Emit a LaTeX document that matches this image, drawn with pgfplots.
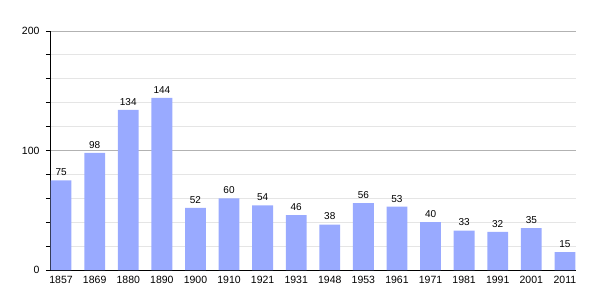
\documentclass[border=0pt]{standalone}
\usepackage{pgfplots}
\pgfplotsset{compat=1.18}
\usepackage{fontspec}
\setmainfont{Liberation Sans}
\definecolor{barblue}{HTML}{99AAFF}
\begin{document}
\begin{tikzpicture}
\path[use as bounding box] (-50pt,-30pt) rectangle (555pt,270pt);
\begin{axis}[
  scale only axis,
  width=526pt, height=239pt,
  at={(0pt,0pt)}, anchor=south west,
  ymin=0, ymax=200,
  xmin=-0.33, xmax=15.33,
  ytick={0,100,200},
  minor ytick={20,40,60,80,120,140,160,180},
  xtick={0,...,15},
  xticklabels={1857,1869,1880,1890,1900,1910,1921,1931,1948,1953,1961,1971,1981,1991,2001,2011},
  ymajorgrids, yminorgrids,
  major grid style={draw=black!30, line width=0.8pt},
  minor grid style={draw=black!10, line width=0.8pt},
  axis x line*=bottom, axis y line*=left,
  axis line style={black, line width=0.8pt, -},
  x tick style={draw=none},
  y tick style={black, line width=0.8pt},
  major tick length=4pt, minor tick length=4pt,
  tick align=outside,
  ticklabel style={font=\fontsize{10.5}{11}\selectfont},
  /pgf/number format/assume math mode=true,
  xticklabel style={yshift=1pt},
  yticklabel style={xshift=-3pt},
  ybar, bar width=0.62,
  nodes near coords,
  every node near coord/.append style={font=\fontsize{10}{11}\selectfont, black, yshift=1pt},
  clip=false,
]
\addplot[fill=barblue, draw=none] coordinates {
(0,75) (1,98) (2,134) (3,144) (4,52) (5,60) (6,54) (7,46) (8,38) (9,56) (10,53) (11,40) (12,33) (13,32) (14,35) (15,15)};
\end{axis}
\end{tikzpicture}
\end{document}
